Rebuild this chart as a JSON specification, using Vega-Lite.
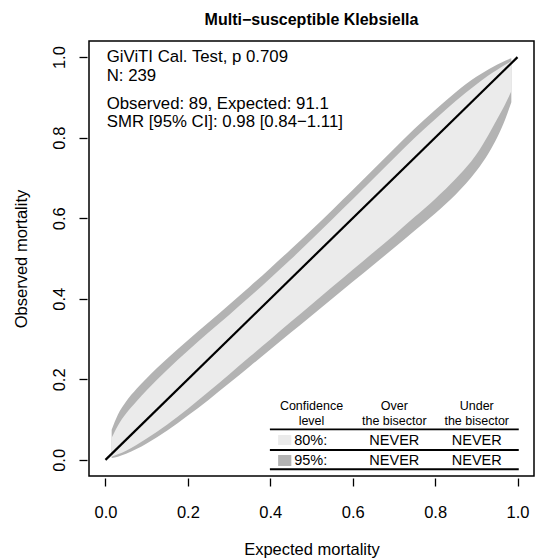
{
  "$schema": "https://vega.github.io/schema/vega-lite/v6.json",
  "width": 445,
  "height": 435,
  "autosize": "none",
  "padding": {"left": 89, "top": 41, "right": 1, "bottom": 84},
  "background": "white",
  "title": {"text": "Multi−susceptible Klebsiella", "fontSize": 16, "fontWeight": "bold", "font": "Liberation Sans", "color": "black", "frame": "group", "anchor": "middle", "offset": 13},
  "config": {
    "view": {"stroke": "black", "strokeWidth": 1.5},
    "axis": {
      "labelFont": "Liberation Sans", "labelFontSize": 16.5, "labelColor": "black",
      "titleFont": "Liberation Sans", "titleFontSize": 16.5, "titleFontWeight": "normal", "titleColor": "black",
      "domain": false, "grid": false, "tickColor": "black", "tickWidth": 1.3, "tickSize": 8, "offset": 2,
      "labelFlush": false, "labelOverlap": false
    }
  },
  "datasets": {
    "belt": [
      {"x": 0.015, "up95": 0.075, "up80": 0.055, "lo80": 0.008, "lo95": 0.005},
      {"x": 0.03, "up95": 0.112, "up80": 0.085, "lo80": 0.014, "lo95": 0.008},
      {"x": 0.05, "up95": 0.145, "up80": 0.115, "lo80": 0.023, "lo95": 0.015},
      {"x": 0.075, "up95": 0.176, "up80": 0.145, "lo80": 0.037, "lo95": 0.027},
      {"x": 0.1, "up95": 0.203, "up80": 0.173, "lo80": 0.053, "lo95": 0.041},
      {"x": 0.15, "up95": 0.252, "up80": 0.224, "lo80": 0.088, "lo95": 0.073},
      {"x": 0.2, "up95": 0.297, "up80": 0.271, "lo80": 0.127, "lo95": 0.11},
      {"x": 0.25, "up95": 0.341, "up80": 0.316, "lo80": 0.169, "lo95": 0.149},
      {"x": 0.3, "up95": 0.385, "up80": 0.36, "lo80": 0.212, "lo95": 0.19},
      {"x": 0.35, "up95": 0.43, "up80": 0.405, "lo80": 0.256, "lo95": 0.232},
      {"x": 0.4, "up95": 0.476, "up80": 0.451, "lo80": 0.299, "lo95": 0.274},
      {"x": 0.45, "up95": 0.523, "up80": 0.498, "lo80": 0.343, "lo95": 0.316},
      {"x": 0.5, "up95": 0.571, "up80": 0.547, "lo80": 0.386, "lo95": 0.358},
      {"x": 0.55, "up95": 0.62, "up80": 0.597, "lo80": 0.429, "lo95": 0.4},
      {"x": 0.6, "up95": 0.67, "up80": 0.647, "lo80": 0.472, "lo95": 0.442},
      {"x": 0.65, "up95": 0.721, "up80": 0.698, "lo80": 0.515, "lo95": 0.484},
      {"x": 0.7, "up95": 0.772, "up80": 0.749, "lo80": 0.558, "lo95": 0.526},
      {"x": 0.75, "up95": 0.822, "up80": 0.799, "lo80": 0.603, "lo95": 0.569},
      {"x": 0.8, "up95": 0.869, "up80": 0.846, "lo80": 0.648, "lo95": 0.612},
      {"x": 0.85, "up95": 0.913, "up80": 0.891, "lo80": 0.698, "lo95": 0.659},
      {"x": 0.9, "up95": 0.951, "up80": 0.932, "lo80": 0.758, "lo95": 0.717},
      {"x": 0.93, "up95": 0.97, "up80": 0.955, "lo80": 0.808, "lo95": 0.762},
      {"x": 0.95, "up95": 0.981, "up80": 0.968, "lo80": 0.845, "lo95": 0.799},
      {"x": 0.97, "up95": 0.991, "up80": 0.981, "lo80": 0.883, "lo95": 0.845},
      {"x": 0.985, "up95": 0.997, "up80": 0.99, "lo80": 0.915, "lo95": 0.888}
    ],
    "diag": [{"x": 0, "y": 0}, {"x": 1, "y": 1}],
    "info": [
      {"x": 0.003, "y": 0.9995, "label": "GiViTI Cal. Test, p 0.709"},
      {"x": 0.003, "y": 0.954, "label": "N: 239"},
      {"x": 0.003, "y": 0.8837, "label": "Observed: 89, Expected: 91.1"},
      {"x": 0.003, "y": 0.8398, "label": "SMR [95% CI]: 0.98 [0.84−1.11]"}
    ],
    "header": [
      {"x": 0.5, "y": 0.133, "label": "Confidence"},
      {"x": 0.5, "y": 0.0966, "label": "level"},
      {"x": 0.701, "y": 0.133, "label": "Over"},
      {"x": 0.701, "y": 0.0966, "label": "the bisector"},
      {"x": 0.901, "y": 0.133, "label": "Under"},
      {"x": 0.901, "y": 0.0966, "label": "the bisector"}
    ],
    "rowlabels": [
      {"x": 0.458, "y": 0.047, "label": "80%:"},
      {"x": 0.458, "y": -0.0027, "label": "95%:"}
    ],
    "rowvalues": [
      {"x": 0.701, "y": 0.047, "label": "NEVER"},
      {"x": 0.901, "y": 0.047, "label": "NEVER"},
      {"x": 0.701, "y": -0.0027, "label": "NEVER"},
      {"x": 0.901, "y": -0.0027, "label": "NEVER"}
    ],
    "rules": [
      {"x": 0.399, "x2": 1.003, "y": 0.076},
      {"x": 0.399, "x2": 1.003, "y": 0.0246},
      {"x": 0.399, "x2": 1.003, "y": -0.0233}
    ],
    "squares": [
      {"level": "80%", "x": 0.419, "x2": 0.451, "y": 0.037, "y2": 0.0618},
      {"level": "95%", "x": 0.419, "x2": 0.451, "y": -0.0151, "y2": 0.0122}
    ]
  },
  "layer": [
    {
      "data": {"name": "belt"},
      "mark": {"type": "area", "color": "#B3B3B3", "opacity": 1, "interpolate": "monotone"},
      "encoding": {
        "x": {"field": "x", "type": "quantitative",
              "scale": {"domain": [-0.04, 1.04], "nice": false, "zero": false},
              "axis": {"values": [0, 0.2, 0.4, 0.6, 0.8, 1], "format": ".1f", "labelPadding": 18.6, "titlePadding": 20, "title": "Expected mortality"}},
        "y": {"field": "lo95", "type": "quantitative",
              "scale": {"domain": [-0.04, 1.04], "nice": false, "zero": false},
              "axis": {"values": [0, 0.2, 0.4, 0.6, 0.8, 1], "format": ".1f", "labelAngle": 270, "labelAlign": "center", "labelBaseline": "bottom", "labelPadding": 11.6, "titlePadding": 22, "title": "Observed mortality"}},
        "y2": {"field": "up95"}
      }
    },
    {
      "data": {"name": "belt"},
      "mark": {"type": "area", "color": "#EBEBEB", "opacity": 1, "interpolate": "monotone"},
      "encoding": {
        "x": {"field": "x", "type": "quantitative", "scale": {"domain": [-0.04, 1.04], "nice": false, "zero": false}, "axis": {"values": [0, 0.2, 0.4, 0.6, 0.8, 1], "format": ".1f", "labelPadding": 18.6, "titlePadding": 20, "title": "Expected mortality"}},
        "y": {"field": "lo80", "type": "quantitative", "scale": {"domain": [-0.04, 1.04], "nice": false, "zero": false}, "axis": {"values": [0, 0.2, 0.4, 0.6, 0.8, 1], "format": ".1f", "labelAngle": 270, "labelAlign": "center", "labelBaseline": "bottom", "labelPadding": 11.6, "titlePadding": 22, "title": "Observed mortality"}},
        "y2": {"field": "up80"}
      }
    },
    {
      "data": {"name": "diag"},
      "mark": {"type": "line", "color": "black", "strokeWidth": 2.2},
      "encoding": {
        "x": {"field": "x", "type": "quantitative", "scale": {"domain": [-0.04, 1.04], "nice": false, "zero": false}, "axis": {"values": [0, 0.2, 0.4, 0.6, 0.8, 1], "format": ".1f", "labelPadding": 18.6, "titlePadding": 20, "title": "Expected mortality"}},
        "y": {"field": "y", "type": "quantitative", "scale": {"domain": [-0.04, 1.04], "nice": false, "zero": false}, "axis": {"values": [0, 0.2, 0.4, 0.6, 0.8, 1], "format": ".1f", "labelAngle": 270, "labelAlign": "center", "labelBaseline": "bottom", "labelPadding": 11.6, "titlePadding": 22, "title": "Observed mortality"}}
      }
    },
    {
      "data": {"name": "info"},
      "mark": {"type": "text", "align": "left", "baseline": "middle", "font": "Liberation Sans", "fontSize": 16.8, "color": "black"},
      "encoding": {
        "x": {"field": "x", "type": "quantitative", "scale": {"domain": [-0.04, 1.04], "nice": false, "zero": false}, "axis": {"values": [0, 0.2, 0.4, 0.6, 0.8, 1], "format": ".1f", "labelPadding": 18.6, "titlePadding": 20, "title": "Expected mortality"}},
        "y": {"field": "y", "type": "quantitative", "scale": {"domain": [-0.04, 1.04], "nice": false, "zero": false}, "axis": {"values": [0, 0.2, 0.4, 0.6, 0.8, 1], "format": ".1f", "labelAngle": 270, "labelAlign": "center", "labelBaseline": "bottom", "labelPadding": 11.6, "titlePadding": 22, "title": "Observed mortality"}},
        "text": {"field": "label"}
      }
    },
    {
      "data": {"name": "header"},
      "mark": {"type": "text", "align": "center", "baseline": "middle", "font": "Liberation Sans", "fontSize": 12.5, "color": "black"},
      "encoding": {
        "x": {"field": "x", "type": "quantitative", "scale": {"domain": [-0.04, 1.04], "nice": false, "zero": false}, "axis": {"values": [0, 0.2, 0.4, 0.6, 0.8, 1], "format": ".1f", "labelPadding": 18.6, "titlePadding": 20, "title": "Expected mortality"}},
        "y": {"field": "y", "type": "quantitative", "scale": {"domain": [-0.04, 1.04], "nice": false, "zero": false}, "axis": {"values": [0, 0.2, 0.4, 0.6, 0.8, 1], "format": ".1f", "labelAngle": 270, "labelAlign": "center", "labelBaseline": "bottom", "labelPadding": 11.6, "titlePadding": 22, "title": "Observed mortality"}},
        "text": {"field": "label"}
      }
    },
    {
      "data": {"name": "rowlabels"},
      "mark": {"type": "text", "align": "left", "baseline": "middle", "font": "Liberation Sans", "fontSize": 14.5, "color": "black"},
      "encoding": {
        "x": {"field": "x", "type": "quantitative", "scale": {"domain": [-0.04, 1.04], "nice": false, "zero": false}, "axis": {"values": [0, 0.2, 0.4, 0.6, 0.8, 1], "format": ".1f", "labelPadding": 18.6, "titlePadding": 20, "title": "Expected mortality"}},
        "y": {"field": "y", "type": "quantitative", "scale": {"domain": [-0.04, 1.04], "nice": false, "zero": false}, "axis": {"values": [0, 0.2, 0.4, 0.6, 0.8, 1], "format": ".1f", "labelAngle": 270, "labelAlign": "center", "labelBaseline": "bottom", "labelPadding": 11.6, "titlePadding": 22, "title": "Observed mortality"}},
        "text": {"field": "label"}
      }
    },
    {
      "data": {"name": "rowvalues"},
      "mark": {"type": "text", "align": "center", "baseline": "middle", "font": "Liberation Sans", "fontSize": 14.5, "color": "black"},
      "encoding": {
        "x": {"field": "x", "type": "quantitative", "scale": {"domain": [-0.04, 1.04], "nice": false, "zero": false}, "axis": {"values": [0, 0.2, 0.4, 0.6, 0.8, 1], "format": ".1f", "labelPadding": 18.6, "titlePadding": 20, "title": "Expected mortality"}},
        "y": {"field": "y", "type": "quantitative", "scale": {"domain": [-0.04, 1.04], "nice": false, "zero": false}, "axis": {"values": [0, 0.2, 0.4, 0.6, 0.8, 1], "format": ".1f", "labelAngle": 270, "labelAlign": "center", "labelBaseline": "bottom", "labelPadding": 11.6, "titlePadding": 22, "title": "Observed mortality"}},
        "text": {"field": "label"}
      }
    },
    {
      "data": {"name": "rules"},
      "mark": {"type": "rule", "color": "black", "strokeWidth": 1.8},
      "encoding": {
        "x": {"field": "x", "type": "quantitative", "scale": {"domain": [-0.04, 1.04], "nice": false, "zero": false}, "axis": {"values": [0, 0.2, 0.4, 0.6, 0.8, 1], "format": ".1f", "labelPadding": 18.6, "titlePadding": 20, "title": "Expected mortality"}},
        "x2": {"field": "x2"},
        "y": {"field": "y", "type": "quantitative", "scale": {"domain": [-0.04, 1.04], "nice": false, "zero": false}, "axis": {"values": [0, 0.2, 0.4, 0.6, 0.8, 1], "format": ".1f", "labelAngle": 270, "labelAlign": "center", "labelBaseline": "bottom", "labelPadding": 11.6, "titlePadding": 22, "title": "Observed mortality"}}
      }
    },
    {
      "data": {"name": "squares"},
      "mark": {"type": "rect"},
      "encoding": {
        "x": {"field": "x", "type": "quantitative", "scale": {"domain": [-0.04, 1.04], "nice": false, "zero": false}, "axis": {"values": [0, 0.2, 0.4, 0.6, 0.8, 1], "format": ".1f", "labelPadding": 18.6, "titlePadding": 20, "title": "Expected mortality"}},
        "x2": {"field": "x2"},
        "y": {"field": "y", "type": "quantitative", "scale": {"domain": [-0.04, 1.04], "nice": false, "zero": false}, "axis": {"values": [0, 0.2, 0.4, 0.6, 0.8, 1], "format": ".1f", "labelAngle": 270, "labelAlign": "center", "labelBaseline": "bottom", "labelPadding": 11.6, "titlePadding": 22, "title": "Observed mortality"}},
        "y2": {"field": "y2"},
        "color": {"field": "level", "type": "nominal", "scale": {"domain": ["80%", "95%"], "range": ["#EBEBEB", "#B3B3B3"]}, "legend": null}
      }
    }
  ]
}
